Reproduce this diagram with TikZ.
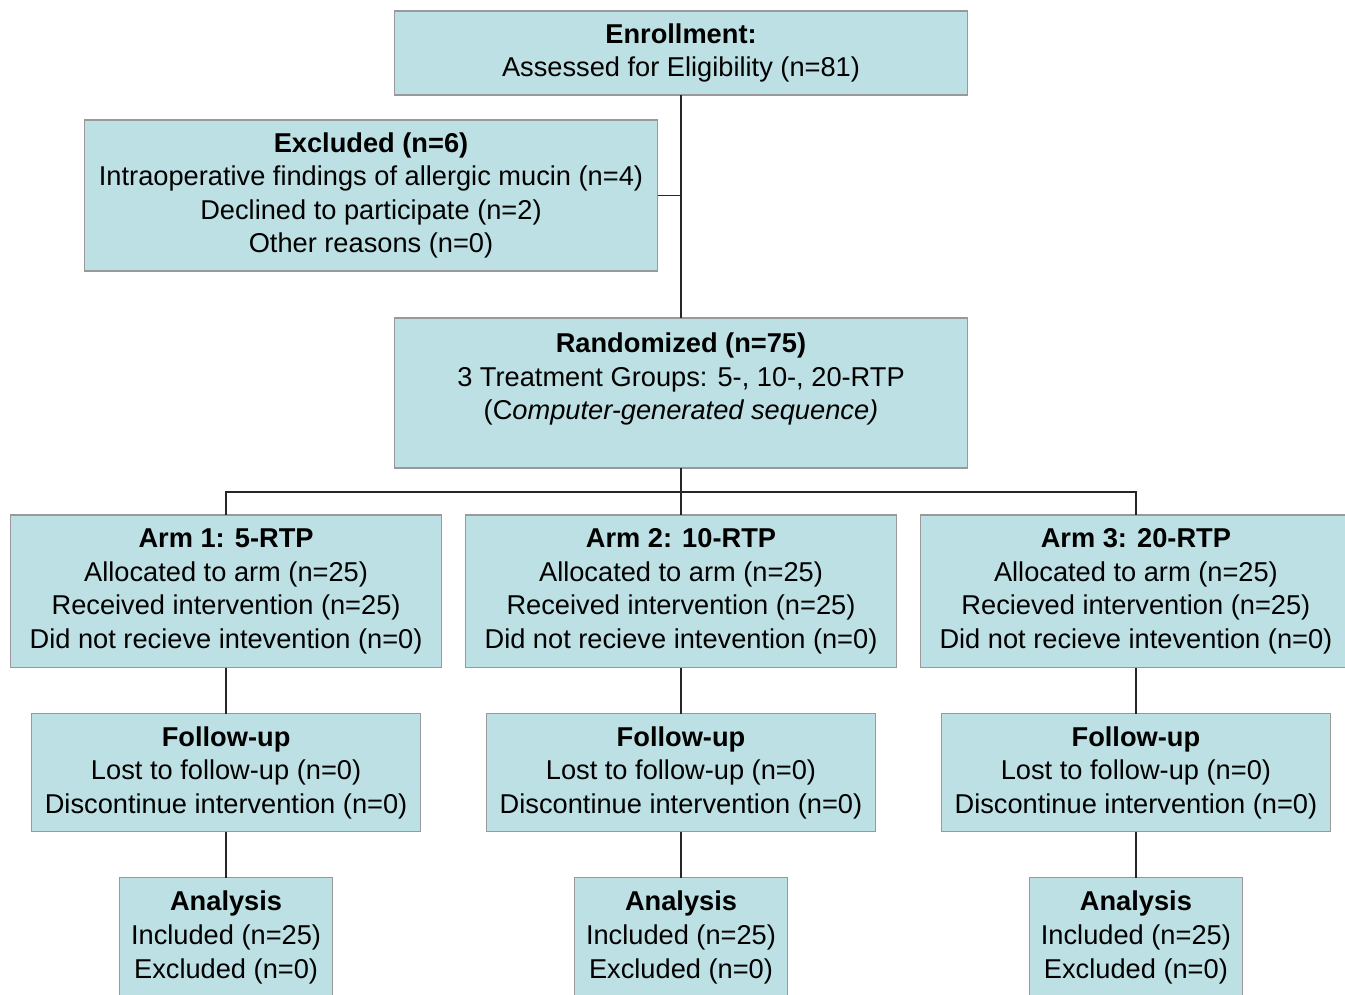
\documentclass[tikz,border=0pt]{standalone}
\usepackage{fontspec}
\setmainfont{Liberation Sans}
\usetikzlibrary{positioning}
\definecolor{boxfill}{RGB}{188,224,227}

\begin{document}
\begin{tikzpicture}[
  x=0.02cm, y=-0.02cm,
  node distance=0.92cm and 0.48cm,
  box/.style={draw=gray!80, line width=0.6pt, fill=boxfill, align=center, inner sep=2pt, outer sep=0pt, font=\fontsize{15.5}{19.1}\selectfont},
  armbox/.style={box, minimum width=8.62cm, minimum height=3.06cm},
  fubox/.style={box, minimum width=7.78cm, minimum height=2.36cm},
  anbox/.style={box, minimum width=4.26cm, minimum height=2.38cm},
  link/.style={draw=black!85, line width=0.9pt}]
  \clip (0,0) rectangle (1345,994);
  \node[box, minimum width=11.48cm, minimum height=1.68cm] (enrol) at (681,53)
    {\textbf{Enrollment:}\\Assessed for Eligibility (n=81)};
  \node[box, minimum width=11.48cm, minimum height=3.02cm] (excl) at (371,195.5)
    {\textbf{Excluded (n=6)}\\Intraoperative findings of allergic mucin (n=4)\\Declined to participate (n=2)\\Other reasons (n=0)};
  \node[box, minimum width=11.48cm, minimum height=3.0cm] (rand) at (681,393)
    {\textbf{Randomized (n=75)}\\3 Treatment Groups: 5-, 10-, 20-RTP\\(C\textit{omputer-generated sequence)}\\\mbox{}};
  \node[armbox, below=0.94cm of rand] (arm2)
    {\textbf{Arm 2: 10-RTP}\\Allocated to arm (n=25)\\Received intervention (n=25)\\Did not recieve intevention (n=0)};
  \node[armbox, left=of arm2] (arm1)
    {\textbf{Arm 1: 5-RTP}\\Allocated to arm (n=25)\\Received intervention (n=25)\\Did not recieve intevention (n=0)};
  \node[armbox, right=of arm2] (arm3)
    {\textbf{Arm 3: 20-RTP}\\Allocated to arm (n=25)\\Recieved intervention (n=25)\\Did not recieve intevention (n=0)};
  \node[fubox, below=of arm1] (fu1) {\textbf{Follow-up}\\Lost to follow-up (n=0)\\Discontinue intervention (n=0)};
  \node[fubox, below=of arm2] (fu2) {\textbf{Follow-up}\\Lost to follow-up (n=0)\\Discontinue intervention (n=0)};
  \node[fubox, below=of arm3] (fu3) {\textbf{Follow-up}\\Lost to follow-up (n=0)\\Discontinue intervention (n=0)};
  \node[anbox, below=of fu1] (an1) {\textbf{Analysis}\\Included (n=25)\\Excluded (n=0)};
  \node[anbox, below=of fu2] (an2) {\textbf{Analysis}\\Included (n=25)\\Excluded (n=0)};
  \node[anbox, below=of fu3] (an3) {\textbf{Analysis}\\Included (n=25)\\Excluded (n=0)};
  \coordinate (split) at (681,492);
  \draw[link] (enrol) -- (rand);
  \draw[link] (excl.east) -- (excl.east -| enrol.south);
  \draw[link] (rand) -- (split);
  \draw[link] (arm1.north) |- (split) -| (arm3.north);
  \draw[link] (split) -- (arm2);
  \draw[link] (arm1) -- (fu1); \draw[link] (arm2) -- (fu2); \draw[link] (arm3) -- (fu3);
  \draw[link] (fu1) -- (an1); \draw[link] (fu2) -- (an2); \draw[link] (fu3) -- (an3);
\end{tikzpicture}
\end{document}
